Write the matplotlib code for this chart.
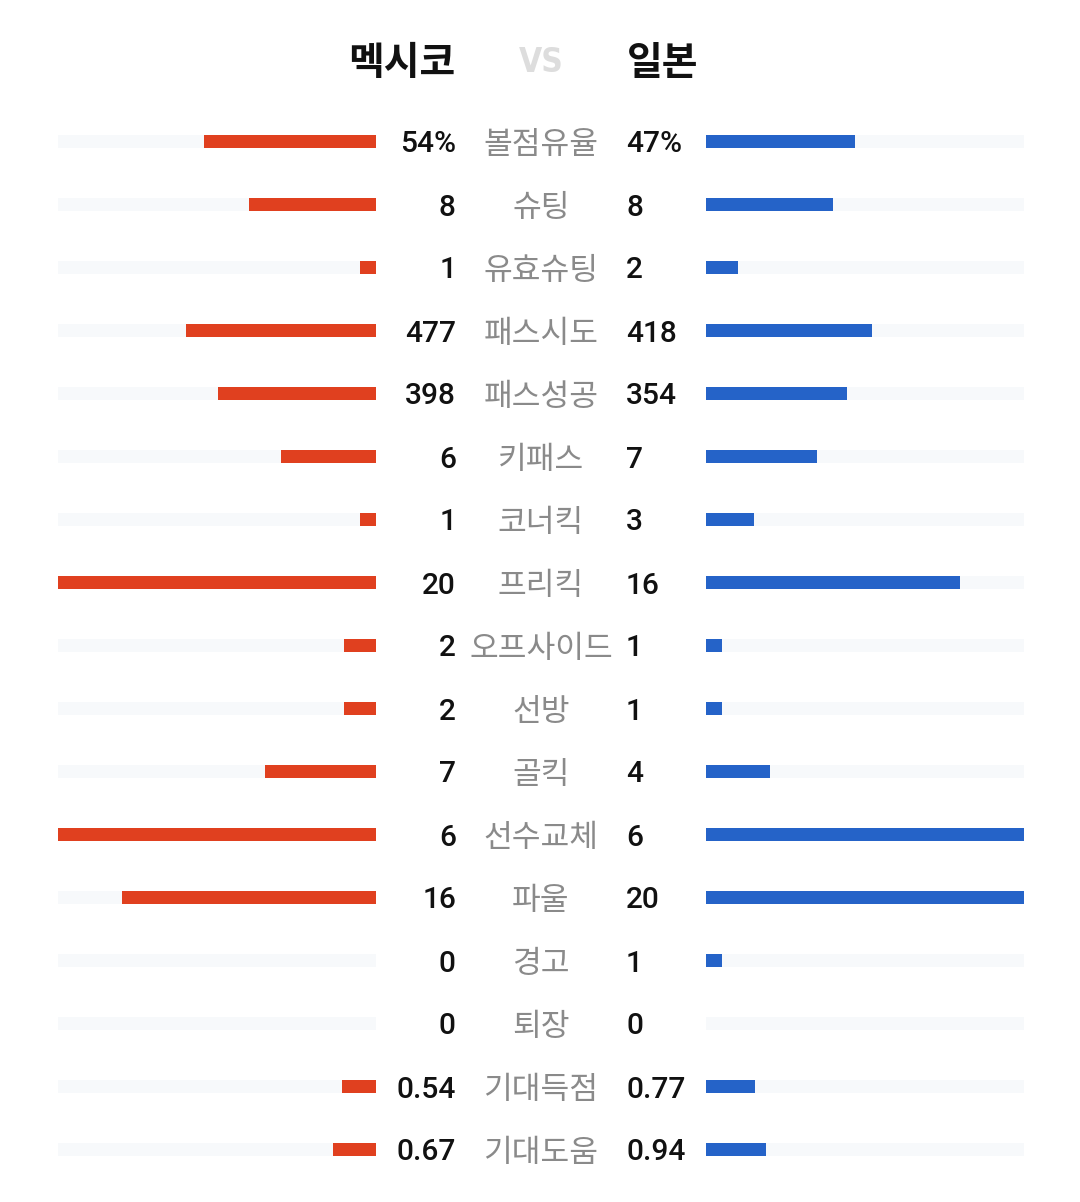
import matplotlib
matplotlib.use("Agg")
import matplotlib.pyplot as plt

# --- data ---
team_left = "멕시코"
team_right = "일본"
stat_labels = ["볼점유율", "슈팅", "유효슈팅", "패스시도", "패스성공", "키패스", "코너킥",
               "프리킥", "오프사이드", "선방", "골킥", "선수교체", "파울", "경고", "퇴장",
               "기대득점", "기대도움"]
left_values = [54, 8, 1, 477, 398, 6, 1, 20, 2, 2, 7, 6, 16, 0, 0, 0.54, 0.67]
right_values = [47, 8, 2, 418, 354, 7, 3, 16, 1, 1, 4, 6, 20, 1, 0, 0.77, 0.94]
left_text = ["54%", "8", "1", "477", "398", "6", "1", "20", "2", "2", "7", "6", "16",
             "0", "0", "0.54", "0.67"]
right_text = ["47%", "8", "2", "418", "354", "7", "3", "16", "1", "1", "4", "6", "20",
              "1", "0", "0.77", "0.94"]
# full-scale value of each bar track
scale_max = [100, 20, 20, 800, 800, 20, 20, 20, 20, 20, 20, 6, 20, 20, 20, 5, 5]

# --- style ---
RED = "#E0401F"
BLUE = "#2563C8"
TRACK = "#F7F9FB"
LABEL_GRAY = "#8A8A8A"
num_font = ["Roboto", "Noto Sans CJK KR", "DejaVu Sans"]
kr_font = ["Noto Sans CJK KR", "DejaVu Sans"]

# layout in pixel units
W, H = 1080, 1202
first_row, row_step = 141.5, 63.0
bar_h = 13
track_w = 318
left_end = 376   # inner edge of left track
right_start = 706

fig = plt.figure(figsize=(W / 100, H / 100), dpi=100)
ax = fig.add_axes([0, 0, 1, 1])
ax.set_xlim(0, W)
ax.set_ylim(H, 0)
ax.axis("off")

ys = [first_row + i * row_step for i in range(len(stat_labels))]
lw = [v / m * track_w for v, m in zip(left_values, scale_max)]
rw = [v / m * track_w for v, m in zip(right_values, scale_max)]

# tracks
ax.barh(ys, [track_w] * len(ys), left=left_end - track_w, height=bar_h, color=TRACK, zorder=1)
ax.barh(ys, [track_w] * len(ys), left=right_start, height=bar_h, color=TRACK, zorder=1)
# values
ax.barh(ys, lw, left=[left_end - w for w in lw], height=bar_h, color=RED, zorder=2)
ax.barh(ys, rw, left=right_start, height=bar_h, color=BLUE, zorder=2)

for y, lab, lt, rt in zip(ys, stat_labels, left_text, right_text):
    ax.text(456, y, lt, ha="right", va="center_baseline", fontsize=21.5,
            family=num_font, fontweight="medium", color="#111111")
    ax.text(626, y, rt, ha="left", va="center_baseline", fontsize=21.5,
            family=num_font, fontweight="medium", color="#111111")
    ax.text(541, y, lab, ha="center", va="center_baseline", fontsize=22.5,
            family=kr_font, color=LABEL_GRAY)

# header
ax.text(455, 64, team_left, ha="right", va="center", fontsize=28,
        family=kr_font, fontweight="bold", color="#111111")
ax.text(627, 64, team_right, ha="left", va="center", fontsize=28,
        family=kr_font, fontweight="bold", color="#111111")
ax.text(541, 63, "VS", ha="center", va="center", fontsize=24,
        family=["DejaVu Sans"], fontweight="bold",
        fontstretch="condensed", color="#DDDDDD")

fig.savefig("out.png", dpi=100)
